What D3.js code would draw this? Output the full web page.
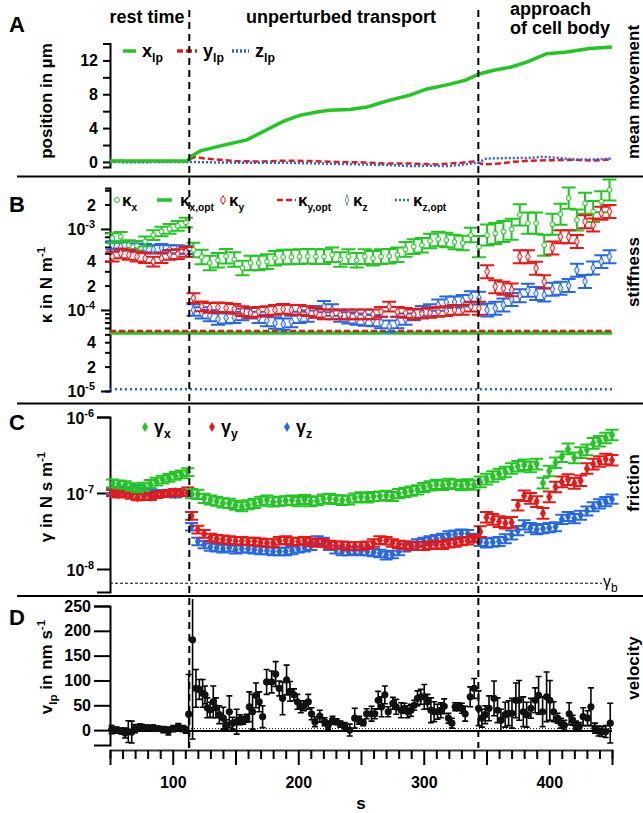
<!DOCTYPE html>
<html>
<head>
<meta charset="utf-8">
<script src="https://cdnjs.cloudflare.com/ajax/libs/d3/7.8.5/d3.min.js"></script>
<style>
  body { margin: 0; background: #fff; }
  svg { display: block; font-family: "Liberation Sans", Arial, Helvetica, sans-serif; }
</style>
</head>
<body>
<svg id="chart"></svg>
<script>
// phase boundaries (s): end of rest time, start of approach
const phaseBounds = [113.2, 343.5];

// A: mean position of the lipid droplet, [t (s), value (µm)]
const posX = [[50,0.1],[80,0.1],[112,0.1],[114,0.6],[122,1.3],[138,1.9],[159,2.6],[175,3.8],[188,4.8],[201,5.5],[215,5.9],[225,6.1],[241,6.2],[255,6.5],[273,7.3],[289,7.9],[302,8.6],[321,9.2],[334,9.7],[344,10.4],[355,10.8],[369,11.2],[382,11.8],[398,12.8],[414,13.0],[432,13.4],[450,13.6]];
const posY = [[50,0.1],[60,0.15],[70,0.05],[80,0.1],[90,0.05],[100,0.1],[110,0.05],[113,0.3],[118,0.6],[125,0.4],[135,0.3],[150,0.1],[170,0.05],[190,0.15],[210,0.1],[230,0],[250,-0.05],[270,-0.2],[290,-0.2],[310,-0.3],[330,-0.1],[340,0.05],[348,-0.3],[360,-0.2],[370,0],[385,0.15],[400,0.2],[420,0.25],[435,0.15],[450,0.3]];
const posZ = [[50,0],[70,-0.05],[90,0],[110,0],[130,-0.05],[160,-0.1],[190,-0.1],[220,-0.2],[250,-0.3],[270,-0.35],[290,-0.5],[305,-0.45],[320,-0.5],[335,-0.25],[343,-0.1],[350,0.4],[365,0.45],[380,0.45],[395,0.6],[405,0.5],[420,0.3],[435,0.3],[450,0.4]];

// B: stiffness, [t (s), value (1e-4 N/m)]
const kappaX = [[52,7.7],[58.5,8.0],[65,6.3],[71.5,6.2],[78,7.0],[84.5,8.4],[91,9.3],[97.5,10.0],[104,10.9],[110.5,12.0],
  [116.5,5.5],[123,4.5],[129.5,3.8],[136,4.1],[142.5,4.6],[149,4.2],[155.5,3.3],[162,3.8],[168.5,3.8],[175,3.95],[181.5,4.35],[188,4.5],[194.5,4.5],[201,4.55],[207.5,4.6],[214,4.55],[220.5,4.55],[227,4.8],[233.5,4.2],[240,4.55],[246.5,4.1],[253,4.55],[259.5,4.35],[266,4.55],[272.5,4.6],[279,4.8],[285.5,5.6],[292,6.05],[298.5,6.3],[305,7.1],[311.5,7.5],[318,7.3],[324.5,6.9],[331,6.7],[337.5,8.4],[344,6.05],
  [350.5,8.4],[357,8.8],[363.5,9.3],[370,9.9],[376.5,14.9],[383,11.8],[389.5,11.8],[396,6.3],[402.5,11.4],[409,15.2],[415.5,24],[422,12.9],[428.5,20.7],[435,16.4],[441.5,21.7],[448,30.3]];
const kappaY = [[52,4.55],[58.5,5.0],[65,4.8],[71.5,4.55],[78,4.35],[84.5,3.95],[91,4.35],[97.5,4.8],[104,4.9],[110.5,5.2],
  [116.5,1.40],[123,1.11],[129.5,1.06],[136,1.08],[142.5,1.06],[149,1.03],[155.5,0.97],[162,0.92],[168.5,0.95],[175,0.97],[181.5,1.0],[188,1.03],[194.5,1.0],[201,1.0],[207.5,0.97],[214,0.92],[220.5,0.88],[227,0.88],[233.5,0.88],[240,0.88],[246.5,0.88],[253,0.88],[259.5,0.88],[266,0.95],[272.5,1.1],[279,0.95],[285.5,0.92],[292,0.88],[298.5,0.9],[305,0.92],[311.5,0.95],[318,0.97],[324.5,1.0],[331,1.0],[337.5,1.1],[344,1.05],
  [350.5,2.97],[357,1.94],[363.5,1.85],[370,1.77],[376.5,4.55],[383,4.55],[389.5,3.27],[396,2.23],[402.5,5.8],[409,8.0],[415.5,8.0],[422,7.0],[428.5,12.3],[435,11.2],[441.5,15.6],[448,16.4]];
const kappaZ = [[52,6.3],[58.5,6.05],[65,6.3],[71.5,5.9],[78,5.8],[84.5,5.6],[91,5.8],[97.5,5.6],[104,5.6],[110.5,5.5],
  [116.5,1.0],[123,0.92],[129.5,0.85],[136,0.77],[142.5,0.8],[149,0.81],[155.5,0.88],[162,0.92],[168.5,0.81],[175,0.74],[181.5,0.69],[188,0.67],[194.5,0.72],[201,0.81],[207.5,0.84],[214,0.95],[220.5,1.1],[227,1.0],[233.5,0.84],[240,0.8],[246.5,0.77],[253,0.75],[259.5,0.74],[266,0.7],[272.5,0.63],[279,0.7],[285.5,0.77],[292,0.88],[298.5,0.95],[305,1.0],[311.5,1.15],[318,1.25],[324.5,1.25],[331,1.3],[337.5,1.45],[344,1.4],
  [350.5,1.0],[357,1.05],[363.5,1.15],[370,1.35],[376.5,1.5],[383,1.75],[389.5,1.6],[396,1.53],[402.5,1.8],[409,1.85],[415.5,2.0],[422,3.1],[428.5,2.25],[435,3.3],[441.5,3.95],[448,4.55]];
// optimal stiffness levels x, y, z (N/m)
const kappaOpt = [5.2e-5, 5.5e-5, 1.05e-5];
// error half widths in decades: rest, transport, approach
const kappaErrX = [0.06, 0.09, 0.13];
const kappaErrY = [0.06, 0.06, 0.08];
const kappaErrZ = [0.05, 0.07, 0.08];

// C: friction, [t (s), value (1e-8 N s/m)]
const gammaX = [[52,13.4],[57,13.0],[62,12.7],[67,12.0],[72,11.5],[77,12.2],[82,13.2],[87,14.1],[92,15.0],[97,15.8],[102,16.8],[107,17.6],[112,18.8],
  [115,9.8],[120,9.6],[125,8.5],[130,8.1],[135,7.8],[140,7.4],[145,7.3],[150,6.9],[155,6.6],[160,7.0],[165,7.3],[170,7.8],[175,8.1],[180,7.6],[185,7.8],[190,7.9],[195,8.1],[200,7.7],[205,8.2],[210,7.7],[215,7.9],[220,8.3],[225,8.5],[230,8.2],[235,8.0],[240,8.1],[245,8.6],[250,8.9],[255,8.6],[260,9.0],[265,9.1],[270,9.3],[275,9.0],[280,9.8],[285,10.2],[290,10.6],[295,11.0],[300,11.8],[305,12.4],[310,13.0],[315,12.6],[320,13.4],[325,13.0],[330,12.5],[335,13.2],[340,12.7],
  [345,14.0],[350,15.2],[355,16.5],[360,17.8],[365,18.9],[370,21.0],[375,22.5],[380,23.5],[385,22.0],[390,24.0],[395,13.5],[400,19.5],[405,25.0],[410,30.0],[415,38.0],[420,29.0],[425,34.0],[430,37.0],[435,45.0],[440,48.0],[445,53.0],[450,58.0]];
const gammaY = [[52,10.0],[57,9.6],[62,9.8],[67,9.2],[72,8.8],[77,9.1],[82,8.9],[87,9.4],[92,9.7],[97,9.9],[102,10.3],[107,10.0],[112,10.8],
  [115,5.0],[120,3.3],[125,2.9],[130,2.6],[135,2.5],[140,2.45],[145,2.4],[150,2.35],[155,2.35],[160,2.3],[165,2.3],[170,2.25],[175,2.2],[180,2.2],[185,2.35],[190,2.4],[195,2.3],[200,2.3],[205,2.35],[210,2.25],[215,2.2],[220,2.2],[225,2.1],[230,2.05],[235,2.05],[240,2.0],[245,2.0],[250,2.0],[255,2.05],[260,2.2],[265,2.4],[270,2.35],[275,2.2],[280,2.1],[285,2.05],[290,2.0],[295,2.0],[300,2.0],[305,2.05],[310,2.1],[315,2.05],[320,2.15],[325,2.2],[330,2.3],[335,2.35],[340,2.5],
  [345,3.1],[350,4.8],[355,4.5],[360,4.2],[365,4.0],[370,4.1],[375,6.9],[380,9.2],[385,8.5],[390,7.7],[395,5.4],[400,8.9],[405,12.0],[410,14.0],[415,15.0],[420,13.4],[425,14.5],[430,21.0],[435,24.0],[440,26.0],[445,28.0],[450,27.0]];
const gammaZ = [[52,10.6],[57,11.0],[62,10.4],[67,10.8],[72,11.5],[77,10.5],[82,10.2],[87,10.0],[92,9.8],[97,10.1],[102,9.6],[107,9.9],[112,10.2],
  [115,3.6],[120,2.3],[125,2.1],[130,1.95],[135,1.9],[140,1.85],[145,1.9],[150,1.8],[155,1.85],[160,1.85],[165,1.8],[170,1.75],[175,1.75],[180,1.7],[185,1.7],[190,1.7],[195,1.75],[200,1.85],[205,1.9],[210,2.0],[215,2.4],[220,2.3],[225,2.0],[230,1.8],[235,1.7],[240,1.7],[245,1.75],[250,1.7],[255,1.7],[260,1.65],[265,1.6],[270,1.5],[275,1.55],[280,1.7],[285,1.9],[290,2.05],[295,2.2],[300,2.3],[305,2.4],[310,2.5],[315,2.6],[320,2.8],[325,2.85],[330,2.95],[335,2.9],[340,2.6],
  [345,2.3],[350,2.2],[355,2.25],[360,2.3],[365,2.5],[370,2.8],[375,3.2],[380,3.8],[385,3.5],[390,3.3],[395,3.4],[400,3.5],[405,3.6],[410,4.5],[415,4.9],[420,4.6],[425,5.1],[430,5.8],[435,6.6],[440,7.2],[445,7.7],[450,8.3]];
const gammaBulk = 6.5e-9;
const gammaErrX = [0.05, 0.06, 0.07];
const gammaErrY = [0.04, 0.05, 0.07];
const gammaErrZ = [0.04, 0.05, 0.06];

// D: velocity, [t (s), v (nm/s), error (nm/s)]
const velocity = [[51.3,1,8],[55.3,0,6],[59.3,-2,6],[62,-6,10],[64.6,-3,22],[67.3,-4,22],[69.9,3,8],[73.9,7,5],[76.6,6,4],[80.5,5,4],[84.5,5,5],[88.5,3,4],[92.5,1,6],[96.5,-2,8],[100.4,3,6],[104.4,7,6],[108.4,3,6],[110.5,0,6],
  [112.7,32,80],[115.8,182,200],[118.5,84,38],[121.2,82,20],[123.8,74,28],[125.7,71,18],[127.5,45,20],[129.7,41,15],[132.3,57,32],[134.4,45,20],[137.1,31,18],[140.3,24,22],[142.4,11,10],[145.1,37,32],[147.7,14,12],[150.9,17,25],[153.5,21,10],[156.2,20,8],[158.9,24,8],[161,47,30],[163.6,37,35],[166.3,70,25],[168.9,57,20],[171.6,27,22],[174.8,97,25],[178.8,97,22],[182,113,25],[184.9,84,15],[187.5,64,33],[190.7,101,30],[193.4,78,20],[196.6,71,12],[199.3,57,15],[202,47,12],[204.5,49,10],[208,57,15],[210.6,33,12],[213.3,17,10],[217.2,28,12],[221,17,8],[223.8,10,8],[227.3,20,8],[230.5,17,6],[233.6,12,6],[237,7,8],[241,0,12],[245,24,20],[248.6,20,8],[251.8,15,6],[254.5,33,10],[258.4,33,15],[261,33,10],[263.7,60,18],[266.4,47,20],[269,71,18],[271.7,37,10],
  [275.4,54,12],[278,47,15],[282,40,15],[284.6,44,10],[287,37,12],[289.8,40,12],[292.4,50,10],[295,64,15],[297.7,67,15],[300.4,67,25],[303,57,15],[305.7,40,25],[308.3,37,20],[311,37,15],[313.6,40,15],[316.3,48,15],[319.7,24,10],[322.4,14,10],[325,47,8],[327.7,47,8],[330.4,44,10],[333,33,15],[337,67,20],[340.2,84,20],
  [343.7,44,35],[346.3,24,18],[349,31,18],[352,44,25],[356,64,35],[358.8,40,25],[361.5,20,22],[364.9,31,25],[367.6,34,25],[370.3,34,30],[373.4,60,35],[376,60,40],[379.3,37,30],[382,31,25],[385.4,44,20],[388.8,60,25],[391.5,70,38],[394.7,37,30],[397.9,67,50],[400.5,60,40],[403.5,37,20],[406.6,24,10],[409.3,14,10],[412,10,10],[415.9,33,22],[418.6,20,10],[421.2,10,8],[423.9,7,8],[427,27,18],[430.5,24,15],[433.2,47,38],[436.4,4,10],[439.3,-2,10],[442,-3,10],[445,-3,12],[448.6,14,40]];

// tick labels
const posTicks = [0, 4, 8, 12];
const velTicks = [0, 50, 100, 150, 200, 250];
const timeLabels = [100, 200, 300, 400];

const green = "#1fc81f", red = "#ee1515", blue = "#2468e8";

const svg = d3.select("#chart").attr("width", 643).attr("height", 813);

const x = d3.scaleLinear().domain([50, 450]).range([110, 612]);
const yA = d3.scaleLinear().domain([-0.6, 14]).range([167, 43.5]);
const yB = d3.scaleLog().domain([1e-5, 3.2e-3]).range([391, 188]);
const yC = d3.scaleLog().domain([4.98e-9, 1e-6]).range([592, 417]);
const yD = d3.scaleLinear().domain([-30, 250]).range([745, 606]);

const phase = t => (t < phaseBounds[0] ? 0 : t < phaseBounds[1] ? 1 : 2);

function styleAxis(g) {
  g.attr("font-family", null).attr("font-size", null);
  g.select(".domain").attr("stroke-width", 2);
  g.selectAll(".tick line").attr("stroke-width", 2);
  g.selectAll(".tick text").attr("font-size", 16).attr("font-weight", "bold").attr("fill", "#000");
}

// text with optional sub / superscript parts: parts = [[text, "n"|"sub"|"sup"], ...]
function richText(g, px, py, parts, size, anchor, transform, ratio) {
  const r = ratio || 0.68;
  const t = g.append("text").attr("font-weight", "bold").attr("font-size", size)
    .attr("text-anchor", anchor || "start");
  if (transform) t.attr("transform", transform); else t.attr("x", px).attr("y", py);
  let shift = 0;
  parts.forEach(([s, kind]) => {
    const target = kind === "sub" ? 0.3 * size : kind === "sup" ? -0.42 * size : 0;
    t.append("tspan").attr("dy", target - shift)
      .attr("font-size", kind === "n" ? size : size * r).text(s);
    shift = target;
  });
  return t;
}

// ---------- panel separators, headers, letters ----------
[176.5, 403.5, 596].forEach(yy => {
  svg.append("line").attr("x1", 17).attr("x2", 643).attr("y1", yy).attr("y2", yy)
    .attr("stroke", "#000").attr("stroke-width", 2);
});

const hdr = svg.append("g").attr("font-weight", "bold").attr("font-size", 18);
hdr.append("text").attr("x", 147).attr("y", 23).attr("text-anchor", "middle").text("rest time");
hdr.append("text").attr("x", 341).attr("y", 23).attr("text-anchor", "middle").text("unperturbed transport");
hdr.append("text").attr("x", 510).attr("y", 15).text("approach");
hdr.append("text").attr("x", 510).attr("y", 34).text("of cell body");

[["A", 32], ["B", 212], ["C", 430], ["D", 625]].forEach(([l, yy]) => {
  svg.append("text").attr("x", 9).attr("y", yy).attr("font-size", 22).attr("font-weight", "bold").text(l);
});

[["mean movement", 92], ["stiffness", 272], ["friction", 483], ["velocity", 668]].forEach(([l, yy]) => {
  svg.append("text").attr("transform", `translate(639,${yy}) rotate(-90)`)
    .attr("text-anchor", "middle").attr("font-size", 17).attr("font-weight", "bold").text(l);
});

// y titles
richText(svg, 0, 0, [["position in µm", "n"]], 17, "middle", "translate(52,101) rotate(-90)");
richText(svg, 0, 0, [["κ in N m", "n"], ["-1", "sup"]], 17, "middle", "translate(52,285) rotate(-90)");
richText(svg, 0, 0, [["γ in  N s m", "n"], ["-1", "sup"]], 17, "middle", "translate(52,497) rotate(-90)");
richText(svg, 0, 0, [["v", "n"], ["lp", "sub"], [" in nm s", "n"], ["-1", "sup"]], 17, "middle", "translate(52,667) rotate(-90)");

// ---------- A ----------
const gA = svg.append("g");
gA.append("g").attr("transform", "translate(110,0)")
  .call(d3.axisLeft(yA).tickValues([0, 2, 4, 6, 8, 10, 12, 14]).tickSizeOuter(0).tickSize(7)
    .tickFormat(d => (posTicks.includes(d) ? d : "")))
  .call(styleAxis)
  .call(g => g.selectAll(".tick text").attr("x", -12));

const lineA = d3.line().x(d => x(d[0])).y(d => yA(d[1]));
gA.append("path").datum(posY).attr("d", lineA).attr("fill", "none")
  .attr("stroke", red).attr("stroke-width", 2.5).attr("stroke-dasharray", "6,3");
gA.append("path").datum(posZ).attr("d", lineA).attr("fill", "none")
  .attr("stroke", blue).attr("stroke-width", 2.5).attr("stroke-dasharray", "2,2");
gA.append("path").datum(posX).attr("d", lineA).attr("fill", "none")
  .attr("stroke", green).attr("stroke-width", 3.5);

[[123, 136, green, null, "x"], [177, 197, red, "6,3", "y"], [232, 249, blue, "2,2", "z"]].forEach(([x1, x2, c, dash, lab]) => {
  gA.append("line").attr("x1", x1).attr("x2", x2).attr("y1", 51).attr("y2", 51)
    .attr("stroke", c).attr("stroke-width", 3.5).attr("stroke-dasharray", dash);
  richText(gA, x2 + 6, 57, [[lab, "n"], ["lp", "sub"]], 18);
});

// ---------- B ----------
const gB = svg.append("g");
const bTicks = [];
[1e-5, 1e-4, 1e-3].forEach(dec => d3.range(1, 10).forEach(m => { if (m * dec <= 3.2e-3) bTicks.push(m * dec); }));
gB.append("g").attr("transform", "translate(110,0)")
  .call(d3.axisLeft(yB).tickValues(bTicks).tickSizeOuter(0).tickSize(5).tickFormat(""))
  .call(styleAxis)
  .call(g => g.selectAll(".tick line").attr("x2", d => (Math.abs(Math.log10(d) % 1) < 1e-9 ? -9 : -5)));
bTicks.forEach(v => {
  const m = Math.round(v / 10 ** Math.floor(Math.log10(v) + 1e-9));
  if (m === 1) {
    richText(gB, 95, yB(v) + 6, [["10", "n"], [String(Math.round(Math.log10(v))), "sup"]], 16, "end");
  } else if (m === 2 || m === 4) {
    gB.append("text").attr("x", 96).attr("y", yB(v) + 6).attr("text-anchor", "end")
      .attr("font-size", 16).attr("font-weight", "bold").text(m);
  }
});

// optimal stiffness lines
[[kappaOpt[0], green, null, 3.5], [kappaOpt[1], red, "6,3", 2.5], [kappaOpt[2], blue, "2,3", 2.5]].forEach(([v, c, dash, w]) => {
  gB.append("line").attr("x1", x(50)).attr("x2", x(450)).attr("y1", yB(v)).attr("y2", yB(v))
    .attr("stroke", c).attr("stroke-width", w).attr("stroke-dasharray", dash);
});

function errorSeries(g, data, unit, errs, y, color, symbol, size, fill, cap) {
  const pts = data.map(([t, v]) => ({ t, v: v * unit, e: errs[phase(t)] }));
  g.append("g").selectAll("path").data(pts).join("path")
    .attr("d", d => {
      const cx = x(d.t), lo = y(d.v / 10 ** d.e), hi = y(d.v * 10 ** d.e);
      return `M${cx},${lo}V${hi}M${cx - cap / 2},${lo}h${cap}M${cx - cap / 2},${hi}h${cap}`;
    })
    .attr("stroke", color).attr("stroke-width", 2).attr("fill", "none");
  g.append("g").selectAll("path").data(pts).join("path")
    .attr("transform", d => `translate(${x(d.t)},${y(d.v)})`)
    .attr("d", d3.symbol(symbol, size))
    .attr("fill", fill).attr("stroke", color).attr("stroke-width", 1);
}

errorSeries(gB, kappaZ, 1e-4, kappaErrZ, yB, blue, d3.symbolDiamond, 20, "#cfe0ff", 14);
errorSeries(gB, kappaX, 1e-4, kappaErrX, yB, green, d3.symbolCircle, 18, "#e8ffe8", 14);
errorSeries(gB, kappaY, 1e-4, kappaErrY, yB, red, d3.symbolDiamond, 20, "#ffe0e0", 14);

// legend B
const legB = gB.append("g");
legB.append("circle").attr("cx", 117).attr("cy", 200).attr("r", 2.5).attr("fill", "#fff").attr("stroke", green);
richText(legB, 122, 206, [["κ", "n"], ["x", "sub"]], 17, "start", null, 0.6);
legB.append("line").attr("x1", 157).attr("x2", 172).attr("y1", 200).attr("y2", 200).attr("stroke", green).attr("stroke-width", 3.5);
richText(legB, 180, 206, [["κ", "n"], ["x,opt", "sub"]], 17, "start", null, 0.6);
legB.append("path").attr("transform", "translate(223,200)").attr("d", d3.symbol(d3.symbolDiamond, 22))
  .attr("fill", "#fff").attr("stroke", red);
richText(legB, 229, 206, [["κ", "n"], ["y", "sub"]], 17, "start", null, 0.6);
legB.append("line").attr("x1", 277).attr("x2", 296).attr("y1", 200).attr("y2", 200).attr("stroke", red)
  .attr("stroke-width", 2.5).attr("stroke-dasharray", "6,3");
richText(legB, 298, 206, [["κ", "n"], ["y,opt", "sub"]], 17, "start", null, 0.6);
legB.append("path").attr("transform", "translate(347,200) scale(0.8,1.4)").attr("d", d3.symbol(d3.symbolDiamond, 16))
  .attr("fill", "#fff").attr("stroke", blue).attr("stroke-width", 0.8);
richText(legB, 353, 206, [["κ", "n"], ["z", "sub"]], 17, "start", null, 0.6);
legB.append("line").attr("x1", 395).attr("x2", 410).attr("y1", 200).attr("y2", 200).attr("stroke", blue)
  .attr("stroke-width", 2.5).attr("stroke-dasharray", "2,2");
richText(legB, 413, 206, [["κ", "n"], ["z,opt", "sub"]], 17, "start", null, 0.6);

// ---------- C ----------
const gC = svg.append("g");
const cTicks = [1e-8, 1e-7, 1e-6];
gC.append("g").attr("transform", "translate(110,0)")
  .call(d3.axisLeft(yC).tickValues(cTicks).tickSizeOuter(0).tickSize(13).tickFormat(""))
  .call(styleAxis);
cTicks.forEach(v => {
  richText(gC, 94, yC(v) + 7, [["10", "n"], [String(Math.round(Math.log10(v))), "sup"]], 16, "end");
});

gC.append("line").attr("x1", x(50)).attr("x2", 602).attr("y1", yC(gammaBulk)).attr("y2", yC(gammaBulk))
  .attr("stroke", "#000").attr("stroke-width", 1).attr("stroke-dasharray", "3,2");
const gbText = gC.append("text").attr("x", 603).attr("y", yC(gammaBulk) + 4).attr("font-size", 16);
gbText.append("tspan").text("γ");
gbText.append("tspan").attr("dy", 5).attr("font-size", 12).text("b");

errorSeries(gC, gammaZ, 1e-8, gammaErrZ, yC, blue, d3.symbolDiamond, 22, blue, 13);
errorSeries(gC, gammaY, 1e-8, gammaErrY, yC, red, d3.symbolDiamond, 22, red, 13);
errorSeries(gC, gammaX, 1e-8, gammaErrX, yC, green, d3.symbolDiamond, 22, green, 13);

[[145, green, "x"], [212, red, "y"], [287, blue, "z"]].forEach(([lx, c, lab]) => {
  gC.append("path").attr("transform", `translate(${lx},427)`).attr("d", d3.symbol(d3.symbolDiamond, 30)).attr("fill", c);
  richText(gC, lx + 9, 433, [["γ", "n"], [lab, "sub"]], 18);
});

// ---------- D ----------
const gD = svg.append("g");
gD.append("g").attr("transform", "translate(110,0)")
  .call(d3.axisLeft(yD).tickValues(velTicks).tickSizeOuter(0).tickSize(16))
  .call(styleAxis)
  .call(g => g.selectAll(".tick text").attr("x", -19));

gD.append("line").attr("x1", x(50)).attr("x2", x(450)).attr("y1", yD(0) + 1).attr("y2", yD(0) + 1)
  .attr("stroke", "#000").attr("stroke-width", 2);
gD.append("line").attr("x1", x(50)).attr("x2", x(450)).attr("y1", yD(0) - 1.5).attr("y2", yD(0) - 1.5)
  .attr("stroke", "#000").attr("stroke-width", 1).attr("stroke-dasharray", "1,2");

svg.append("clipPath").attr("id", "clipD").append("rect")
  .attr("x", 100).attr("y", 599).attr("width", 520).attr("height", 149);
const gDv = gD.append("g").attr("clip-path", "url(#clipD)");
gDv.append("g").selectAll("path").data(velocity).join("path")
  .attr("d", ([t, v, e]) => {
    const cx = x(t), lo = yD(v - e), hi = yD(v + e);
    return `M${cx},${lo}V${hi}M${cx - 3},${lo}h6M${cx - 3},${hi}h6`;
  })
  .attr("stroke", "#000").attr("stroke-width", 1.6).attr("fill", "none");
gDv.append("g").selectAll("circle").data(velocity).join("circle")
  .attr("cx", d => x(d[0])).attr("cy", d => yD(d[1])).attr("r", 3.6).attr("fill", "#111");

// bottom time axis
gD.append("g").attr("transform", "translate(0,750)")
  .call(d3.axisBottom(x).tickValues(d3.range(50, 451, 10)).tickSizeOuter(0).tickSize(9)
    .tickFormat(d => (timeLabels.includes(d) ? d : "")))
  .call(styleAxis)
  .call(g => g.select(".domain").attr("stroke", "#333"))
  .call(g => g.selectAll(".tick line").attr("y2", d => (d % 50 === 0 ? 15 : 9)))
  .call(g => g.selectAll(".tick text").attr("y", 27));
svg.append("text").attr("x", 361).attr("y", 809).attr("text-anchor", "middle")
  .attr("font-size", 17).attr("font-weight", "bold").text("s");

// phase boundary dashed lines
phaseBounds.forEach(t => {
  svg.append("line").attr("x1", x(t)).attr("x2", x(t)).attr("y1", 10).attr("y2", 748)
    .attr("stroke", "#000").attr("stroke-width", 2).attr("stroke-dasharray", "7,5");
});
</script>
</body>
</html>
